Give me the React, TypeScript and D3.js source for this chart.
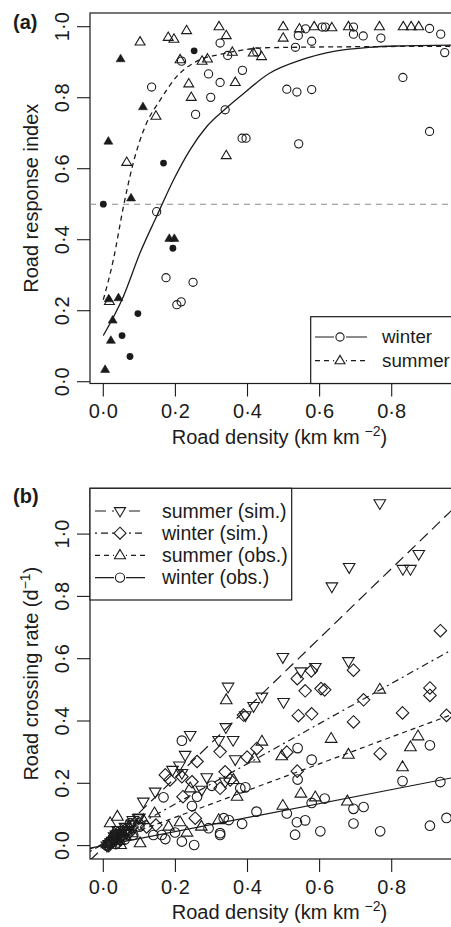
import React from "react";
import * as d3 from "d3";

const FONT = '"Liberation Sans", Arial, Helvetica, sans-serif';
const INK = "#1b1b1b";

// ---------- panel (a): road response index ----------
const winterObs: [number, number][] = [
  [0.324, 0.954], [0.217, 0.903], [0.345, 0.919], [0.292, 0.867], [0.324, 0.843],
  [0.386, 0.877], [0.134, 0.83], [0.298, 0.801], [0.256, 0.753], [0.338, 0.766],
  [0.385, 0.686], [0.396, 0.686], [0.148, 0.479], [0.174, 0.293], [0.249, 0.28],
  [0.204, 0.217], [0.216, 0.225], [0.426, 0.929], [0.561, 0.994], [0.607, 0.999],
  [0.616, 0.999], [0.541, 0.975], [0.578, 0.959], [0.533, 0.942], [0.694, 0.999],
  [0.694, 0.979], [0.721, 0.974], [0.77, 0.968], [0.905, 0.995], [0.936, 0.979],
  [0.947, 0.927], [0.509, 0.824], [0.537, 0.816], [0.578, 0.823], [0.831, 0.857],
  [0.905, 0.705], [0.542, 0.67],
];
const winterFilled: [number, number][] = [
  [0.252, 0.932], [0.167, 0.616], [0.0, 0.5], [0.193, 0.376], [0.096, 0.192],
  [0.052, 0.13], [0.074, 0.071],
];
const summerObs: [number, number][] = [
  [0.102, 0.957], [0.18, 0.97], [0.196, 0.965], [0.231, 0.989], [0.321, 1.0],
  [0.341, 0.975], [0.213, 0.907], [0.274, 0.903], [0.289, 0.909], [0.358, 0.928],
  [0.416, 0.926], [0.439, 0.916], [0.237, 0.839], [0.244, 0.801], [0.366, 0.843],
  [0.146, 0.748], [0.065, 0.618], [0.341, 0.637], [0.017, 0.226], [0.499, 1.0],
  [0.499, 0.968], [0.544, 0.994], [0.585, 1.0], [0.634, 0.997], [0.68, 1.0],
  [0.766, 1.0], [0.832, 1.0], [0.854, 1.0], [0.875, 1.0],
];
const summerFilled: [number, number][] = [
  [0.048, 0.909], [0.11, 0.774], [0.014, 0.677], [0.077, 0.517], [0.183, 0.403],
  [0.197, 0.403], [0.015, 0.233], [0.042, 0.236], [0.026, 0.173], [0.021, 0.116],
  [0.005, 0.034],
];
// fitted curves
const winterCurve: [number, number][] = [
  [0.0, 0.13], [0.056, 0.241], [0.102, 0.363], [0.148, 0.466], [0.195, 0.569],
  [0.241, 0.654], [0.287, 0.719], [0.336, 0.766], [0.38, 0.804], [0.46, 0.868],
  [0.551, 0.907], [0.643, 0.931], [0.736, 0.942], [0.828, 0.946], [0.967, 0.948],
];
const summerCurve: [number, number][] = [
  [0.0, 0.231], [0.028, 0.344], [0.056, 0.494], [0.083, 0.616], [0.116, 0.719],
  [0.158, 0.794], [0.204, 0.86], [0.26, 0.903], [0.334, 0.924], [0.46, 0.941],
  [0.967, 0.945],
];
const thresholdA = 0.5;

// ---------- panel (b): road crossing rate ----------
const summerSim: [number, number][] = [
  [0.767, 1.099], [0.875, 0.936], [0.831, 0.888], [0.852, 0.888], [0.682, 0.894],
  [0.634, 0.832], [0.498, 0.605], [0.548, 0.559], [0.588, 0.573], [0.68, 0.592],
  [0.5, 0.461], [0.346, 0.51], [0.44, 0.478], [0.417, 0.448], [0.394, 0.418],
  [0.34, 0.38], [0.241, 0.355], [0.32, 0.339], [0.36, 0.339], [0.227, 0.291],
  [0.366, 0.277], [0.211, 0.257], [0.192, 0.243], [0.218, 0.233], [0.287, 0.219],
  [0.273, 0.179], [0.144, 0.173], [0.111, 0.141], [0.097, 0.088], [0.338, 0.205],
  [0.082, 0.082], [0.02, 0.01], [0.03, 0.03], [0.04, 0.05], [0.05, 0.04],
  [0.06, 0.06], [0.07, 0.05], [0.08, 0.07], [0.01, 0.0], [0.045, 0.02], [0.1, 0.09],
  [0.015, 0.005], [0.025, 0.015], [0.035, 0.035], [0.055, 0.05], [0.065, 0.04],
];
const winterSim: [number, number][] = [
  [0.935, 0.69], [0.538, 0.536], [0.577, 0.561], [0.694, 0.563], [0.56, 0.497],
  [0.604, 0.504], [0.614, 0.5], [0.722, 0.468], [0.906, 0.506], [0.906, 0.482],
  [0.541, 0.417], [0.578, 0.423], [0.694, 0.397], [0.83, 0.426], [0.952, 0.418],
  [0.768, 0.295], [0.509, 0.3], [0.538, 0.239], [0.389, 0.419], [0.324, 0.302],
  [0.26, 0.27], [0.218, 0.221], [0.221, 0.157], [0.399, 0.284], [0.426, 0.312],
  [0.146, 0.066], [0.255, 0.088], [0.324, 0.184], [0.352, 0.211], [0.172, 0.227],
  [0.185, 0.211], [0.246, 0.205], [0.338, 0.237], [0.02, 0.01], [0.03, 0.02],
  [0.05, 0.03], [0.06, 0.05], [0.07, 0.04], [0.08, 0.06], [0.04, 0.04],
  [0.1, 0.07], [0.12, 0.06], [0.015, 0.0], [0.025, 0.012], [0.045, 0.025],
  [0.055, 0.045], [0.035, 0.03],
];
const summerObsB: [number, number][] = [
  [0.767, 0.501], [0.632, 0.343], [0.873, 0.351], [0.852, 0.316], [0.495, 0.287],
  [0.68, 0.292], [0.83, 0.252], [0.548, 0.167], [0.588, 0.155], [0.677, 0.142],
  [0.498, 0.128], [0.341, 0.467], [0.44, 0.334], [0.419, 0.28], [0.361, 0.211],
  [0.142, 0.104], [0.32, 0.082], [0.272, 0.061], [0.213, 0.075], [0.232, 0.042],
  [0.039, 0.093], [0.019, 0.072], [0.102, 0.008], [0.048, 0.002], [0.181, 0.061],
  [0.111, 0.082], [0.241, 0.184], [0.371, 0.157], [0.03, 0.04], [0.05, 0.05],
  [0.06, 0.03], [0.07, 0.06], [0.02, 0.02], [0.08, 0.04], [0.01, 0.005],
  [0.025, 0.03], [0.045, 0.015], [0.065, 0.045],
];
const winterObsB: [number, number][] = [
  [0.539, 0.313], [0.578, 0.276], [0.906, 0.322], [0.83, 0.207], [0.935, 0.204],
  [0.539, 0.212], [0.614, 0.151], [0.578, 0.137], [0.509, 0.103], [0.694, 0.118],
  [0.722, 0.124], [0.537, 0.075], [0.56, 0.081], [0.694, 0.071], [0.532, 0.035],
  [0.602, 0.046], [0.768, 0.046], [0.906, 0.064], [0.952, 0.089], [0.218, 0.337],
  [0.167, 0.155], [0.38, 0.184], [0.394, 0.187], [0.301, 0.192], [0.26, 0.157],
  [0.246, 0.127], [0.199, 0.042], [0.218, 0.013], [0.252, 0.002], [0.172, 0.021],
  [0.139, 0.034], [0.162, 0.034], [0.324, 0.034], [0.324, 0.04], [0.334, 0.088],
  [0.348, 0.082], [0.385, 0.07], [0.425, 0.109], [0.292, 0.056], [0.1, 0.061],
  [0.083, 0.034], [0.074, 0.072], [0.01, 0.0], [0.02, 0.01], [0.03, 0.02],
  [0.04, 0.01], [0.05, 0.03], [0.06, 0.02], [0.015, 0.008], [0.035, 0.005],
];
// regression lines: summer sim, winter sim, summer obs, winter obs
const fitIntercepts = [-0.006, 0.005, 0.005, 0.0];
const fitSlopes = [1.12, 0.645, 0.43, 0.225];

const legendB = ["summer (sim.)", "winter (sim.)", "summer (obs.)", "winter (obs.)"];
const legendA = ["winter", "summer"];
const xTicks = [0, 0.2, 0.4, 0.6, 0.8];
const yTicks = [0, 0.2, 0.4, 0.6, 0.8, 1.0];

const fmt = (v: number) => d3.format(".1f")(v).replace(".", "\u00b7");

type Shape = "circle" | "dot" | "tri" | "triFill" | "down" | "diamond";

const Marker = ({ s, cx, cy, r = 4.3 }: { s: Shape; cx: number; cy: number; r?: number }) => {
  const common = { stroke: INK, strokeWidth: 1.1 };
  if (s === "circle") return <circle cx={cx} cy={cy} r={r} fill="none" {...common} />;
  if (s === "dot") return <circle cx={cx} cy={cy} r={3.4} fill={INK} />;
  const k = r / 4.3;
  let d = "";
  if (s === "tri" || s === "triFill")
    d = `M${cx},${cy - 5.6 * k}L${cx + 5.2 * k},${cy + 3.2 * k}L${cx - 5.2 * k},${cy + 3.2 * k}Z`;
  if (s === "down")
    d = `M${cx},${cy + 5.6 * k}L${cx + 5.2 * k},${cy - 3.2 * k}L${cx - 5.2 * k},${cy - 3.2 * k}Z`;
  if (s === "diamond")
    d = `M${cx},${cy - 5.6 * k}L${cx + 5.6 * k},${cy}L${cx},${cy + 5.6 * k}L${cx - 5.6 * k},${cy}Z`;
  if (s === "triFill") return <path d={d} fill={INK} stroke={INK} strokeWidth={0.6} />;
  return <path d={d} fill="none" {...common} />;
};

const x = d3.scaleLinear().domain([-0.0369, 1.0144]).range([90, 469]);
const yA = d3.scaleLinear().domain([-0.005, 1.0386]).range([383.5, 13]);
const yB = d3.scaleLinear().domain([-0.043, 1.147]).range([859, 488.3]);

const Axes = ({ y, top, bottom, ylab, sup }: any) => (
  <g fontFamily={FONT} fill={INK}>
    <rect x={90} y={top} width={379} height={bottom - top} fill="none" stroke={INK} strokeWidth={1.2} />
    {xTicks.map((t) => (
      <g key={"x" + t}>
        <line x1={x(t)} x2={x(t)} y1={bottom} y2={bottom + 13} stroke={INK} strokeWidth={1.1} />
        <text x={x(t)} y={bottom + 34.5} textAnchor="middle" fontSize={20}>
          {fmt(t)}
        </text>
      </g>
    ))}
    {yTicks.map((t) => (
      <g key={"y" + t}>
        <line x1={77} x2={90} y1={y(t)} y2={y(t)} stroke={INK} strokeWidth={1.1} />
        <text
          transform={`translate(61.5,${y(t)}) rotate(-90)`}
          dy="0.36em"
          textAnchor="middle"
          fontSize={20}
        >
          {fmt(t)}
        </text>
      </g>
    ))}
    <text x={279.5} y={bottom + 60} textAnchor="middle" fontSize={20}>
      Road density (km km
      <tspan dx={5} fontSize={14} dy={-8}>
        {"\u22122"}
      </tspan>
      <tspan dy={8}>)</tspan>
    </text>
    <text
      transform={`translate(37.5,${(top + bottom) / 2}) rotate(-90)`}
      textAnchor="middle"
      fontSize={20}
    >
      {ylab}
      {sup && (
        <>
          <tspan fontSize={14} dy={-8}>
            {sup}
          </tspan>
          <tspan dy={8}>)</tspan>
        </>
      )}
    </text>
  </g>
);

const App = () => {
  const lineA = d3
    .line<[number, number]>()
    .x((d) => x(d[0]))
    .y((d) => yA(d[1]))
    .curve(d3.curveMonotoneX);

  const [x0, x1] = x.domain();
  const dashB = ["11,6", "2,4,7,4", "5,4", ""];
  const shapesB: Shape[] = ["down", "diamond", "tri", "circle"];
  const seriesB = [summerSim, winterSim, summerObsB, winterObsB];

  return (
    <div style={{ position: "absolute", left: 0, top: 0 }}>
      <svg width={451} height={927} style={{ display: "block", background: "#fff" }}>
        <defs>
          <clipPath id="clipA">
            <rect x={90} y={13} width={379} height={370.5} />
          </clipPath>
          <clipPath id="clipB">
            <rect x={90} y={488.3} width={379} height={370.7} />
          </clipPath>
        </defs>

        {/* ---- panel (a) ---- */}
        <text x={13} y={29} fontFamily={FONT} fontWeight="bold" fontSize={20} fill={INK}>
          (a)
        </text>
        <Axes y={yA} top={13} bottom={383.5} ylab="Road response index" />
        <g clipPath="url(#clipA)">
          <line
            x1={90}
            x2={469}
            y1={yA(thresholdA)}
            y2={yA(thresholdA)}
            stroke="#8a8a8a"
            strokeWidth={1.1}
            strokeDasharray="6,5"
          />
          <path d={lineA(winterCurve) || ""} fill="none" stroke={INK} strokeWidth={1.3} />
          <path
            d={lineA(summerCurve) || ""}
            fill="none"
            stroke={INK}
            strokeWidth={1.3}
            strokeDasharray="5,4"
          />
          {winterObs.map((d, i) => (
            <Marker key={"wo" + i} s="circle" cx={x(d[0])} cy={yA(d[1])} r={4.1} />
          ))}
          {summerObs.map((d, i) => (
            <Marker key={"so" + i} s="tri" cx={x(d[0])} cy={yA(d[1])} r={4.1} />
          ))}
          {winterFilled.map((d, i) => (
            <Marker key={"wf" + i} s="dot" cx={x(d[0])} cy={yA(d[1])} />
          ))}
          {summerFilled.map((d, i) => (
            <Marker key={"sf" + i} s="triFill" cx={x(d[0])} cy={yA(d[1])} r={3.7} />
          ))}
        </g>
        {/* legend (a) */}
        <g fontFamily={FONT} fontSize={18.8} fill={INK}>
          <rect x={310.7} y={316.7} width={160} height={66.8} fill="#fff" stroke={INK} strokeWidth={1.2} />
          {legendA.map((name, i) => {
            const cy = 337 + i * 23.7;
            return (
              <g key={name}>
                <line
                  x1={315}
                  x2={367}
                  y1={cy}
                  y2={cy}
                  stroke={INK}
                  strokeWidth={1.2}
                  strokeDasharray={i === 0 ? "" : "5,4"}
                />
                <rect x={334} y={cy - 6} width={12} height={12} fill="#fff" />
                <Marker s={i === 0 ? "circle" : "tri"} cx={340} cy={cy} r={4.1} />
                <text x={382} y={cy} dy="0.34em">
                  {name}
                </text>
              </g>
            );
          })}
        </g>

        {/* ---- panel (b) ---- */}
        <text x={13} y={503} fontFamily={FONT} fontWeight="bold" fontSize={20} fill={INK}>
          (b)
        </text>
        <Axes y={yB} top={488.3} bottom={859} ylab="Road crossing rate (d" sup={"\u22121"} />
        <g clipPath="url(#clipB)">
          {seriesB.map((pts, k) =>
            pts.map((d, i) => (
              <Marker key={`b${k}-${i}`} s={shapesB[k]} cx={x(d[0])} cy={yB(d[1])} r={4.8} />
            ))
          )}
          {fitIntercepts.map((a, k) => (
            <line
              key={"fit" + k}
              x1={x(x0)}
              x2={x(x1)}
              y1={yB(a + fitSlopes[k] * x0)}
              y2={yB(a + fitSlopes[k] * x1)}
              stroke={INK}
              strokeWidth={1.2}
              strokeDasharray={dashB[k]}
            />
          ))}
        </g>
        {/* legend (b) */}
        <g fontFamily={FONT} fontSize={19.5} fill={INK}>
          <rect x={90} y={488.3} width={201.7} height={111.7} fill="#fff" stroke={INK} strokeWidth={1.2} />
          {legendB.map((name, i) => {
            const cy = 511 + i * 22.2;
            return (
              <g key={name}>
                <line
                  x1={95}
                  x2={145}
                  y1={cy}
                  y2={cy}
                  stroke={INK}
                  strokeWidth={1.2}
                  strokeDasharray={dashB[i]}
                />
                <rect x={114} y={cy - 6} width={12} height={12} fill="#fff" />
                <Marker s={shapesB[i]} cx={120} cy={cy} r={4.6} />
                <text x={162} y={cy} dy="0.34em">
                  {name}
                </text>
              </g>
            );
          })}
        </g>
      </svg>
    </div>
  );
};

export default App;
